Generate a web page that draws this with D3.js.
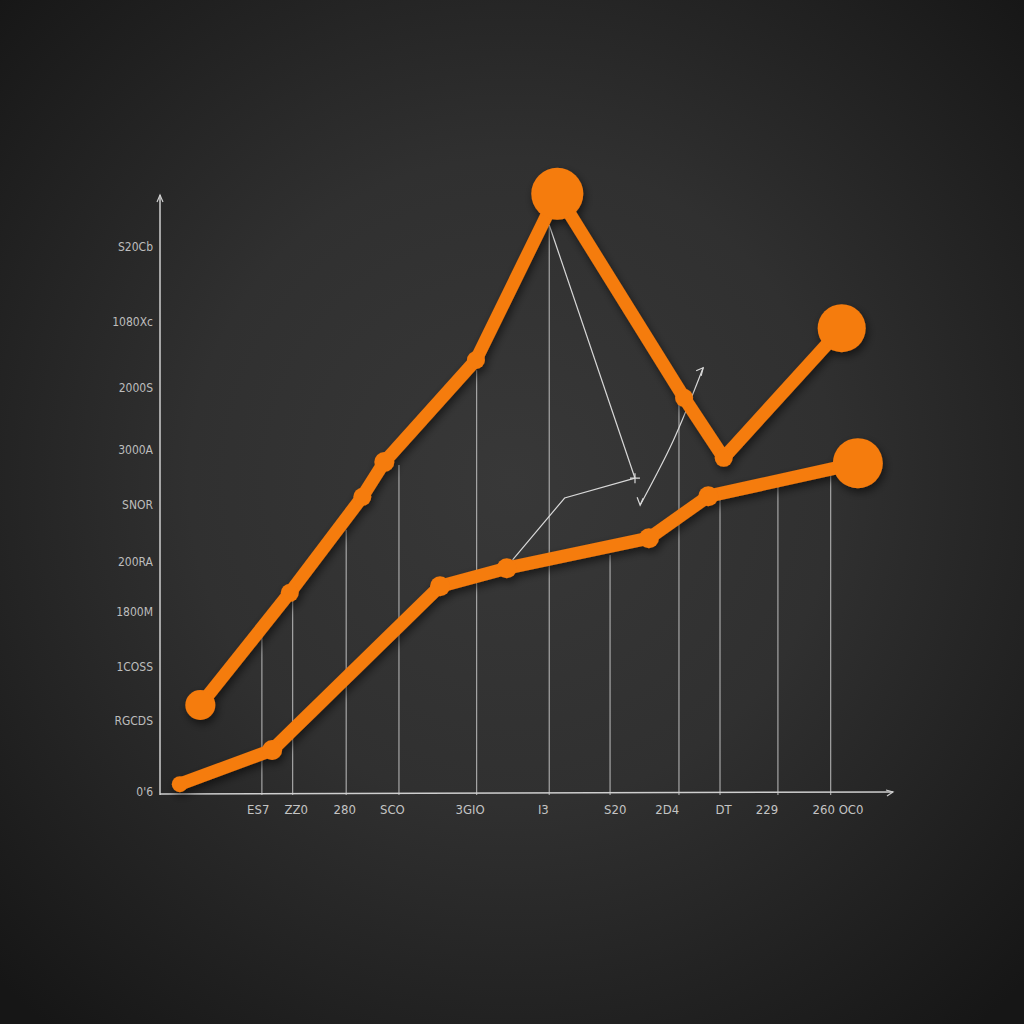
<!DOCTYPE html>
<html><head><meta charset="utf-8">
<script src="https://cdn.jsdelivr.net/npm/d3@7"></script>
<style>html,body{margin:0;padding:0;background:#1c1c1c;}svg{display:block;}</style>
</head><body>
<script>
// ---- data ----
const s1x = [5.5, 17.7, 27.6, 30.6, 43.1, 54.2, 71.5, 76.9, 93.0];
const s1y = [15.0, 33.7, 49.7, 55.5, 72.5, 100.2, 66.2, 56.2, 77.8];
const s2x = [2.7, 15.3, 38.2, 47.3, 66.7, 74.8, 95.2];
const s2y = [1.8, 7.5, 34.8, 37.8, 42.8, 49.8, 55.3];
const xTickPos = [13.4, 18.6, 25.2, 31.7, 42.3, 52.3, 62.1, 69.2, 76.9, 82.8, 92.5];
const xTickLabels = ["ES7", "ZZ0", "280", "SCO", "3GIO", "I3", "S20", "2D4", "DT", "229", "260 OC0"];
const yTickPos = [91.2, 78.8, 67.7, 57.5, 48.2, 38.8, 30.5, 21.2, 12.2, 0.5];
const yTickLabels = ["S20Cb", "1080Xc", "2000S", "3000A", "SNOR", "200RA", "1800M", "1COSS", "RGCDS", "0'6"];
const gridX = [13.9, 18.1, 25.4, 32.6, 43.2, 53.1, 61.4, 70.8, 76.4, 84.3, 91.5];
const gridTop = [26.7, 32.5, 44.2, 55.0, 70.8, 95.0, 40.0, 65.8, 49.2, 52.5, 54.2];
const noteA = [[53.1, 95.0], [64.8, 52.8]];
const noteB = [[48.1, 39.2], [55.2, 49.5], [64.8, 52.8]];
const noteC = [[65.5, 48.3], [70.0, 59.0], [74.1, 71.2]];

// ---- styles (not data) ----
const r1 = [15, 9, 9, 10, 9, 26, 9, 9, 24];
const r2 = [8, 10, 10, 10, 10, 10, 25];
const ORANGE = "#f57b0c";
const W = 1024, H = 1024;

const svg = d3.select("body").append("svg").attr("width", W).attr("height", H);
const defs = svg.append("defs");
const rg = defs.append("radialGradient").attr("id", "bg").attr("cx", "50%").attr("cy", "47%").attr("r", "70%");
rg.append("stop").attr("offset", "0%").attr("stop-color", "#383838");
rg.append("stop").attr("offset", "45%").attr("stop-color", "#303030");
rg.append("stop").attr("offset", "100%").attr("stop-color", "#161616");
svg.append("rect").attr("width", W).attr("height", H).attr("fill", "url(#bg)");
const f = defs.append("filter").attr("id", "sh").attr("x", "-20%").attr("y", "-20%").attr("width", "140%").attr("height", "140%");
f.append("feDropShadow").attr("dx", 2).attr("dy", 4).attr("stdDeviation", 4).attr("flood-color", "#000").attr("flood-opacity", 0.55);

const x = d3.scaleLinear().domain([0, 100]).range([160, 893]);
const y = d3.scaleLinear().domain([0, 100]).range([795, 195]);

// grid lines
svg.append("g").selectAll("line").data(gridX).join("line")
  .attr("x1", d => x(d)).attr("x2", d => x(d))
  .attr("y1", y(0)).attr("y2", (d, i) => y(gridTop[i]))
  .attr("stroke", "#c8c8c8").attr("stroke-width", 1.1).attr("opacity", 0.85);

// axes
const axisColor = "#cfcfcf";
svg.append("line").attr("x1", x(0)).attr("x2", x(0)).attr("y1", y(0)).attr("y2", y(100))
  .attr("stroke", axisColor).attr("stroke-width", 1.5);
svg.append("line").attr("x1", x(0)).attr("x2", x(100)).attr("y1", y(0) - 1).attr("y2", y(0) - 3)
  .attr("stroke", axisColor).attr("stroke-width", 1.5);
svg.append("path").attr("d", `M${x(0) - 3},${y(100) + 7} L${x(0)},${y(100)} L${x(0) + 3},${y(100) + 7}`)
  .attr("fill", "none").attr("stroke", axisColor).attr("stroke-width", 1.2);
svg.append("path").attr("d", `M${x(100) - 7},${y(0) - 5} L${x(100)},${y(0) - 3} L${x(100) - 6},${y(0) + 1}`)
  .attr("fill", "none").attr("stroke", axisColor).attr("stroke-width", 1.2);

// tick labels
svg.append("g").selectAll("text").data(yTickLabels).join("text")
  .attr("x", x(0) - 7).attr("y", (d, i) => y(yTickPos[i]))
  .attr("text-anchor", "end").attr("dominant-baseline", "middle")
  .attr("font-family", "DejaVu Sans Condensed, DejaVu Sans, sans-serif").attr("font-size", 12)
  .attr("fill", "#bdbdbd").text(d => d);
svg.append("g").selectAll("text").data(xTickLabels).join("text")
  .attr("x", (d, i) => x(xTickPos[i])).attr("y", y(0) + 19)
  .attr("text-anchor", "middle")
  .attr("font-family", "DejaVu Sans Condensed, DejaVu Sans, sans-serif").attr("font-size", 13)
  .attr("fill", "#c4c4c4").text(d => d);

// annotation lines
const ln = d3.line().x(d => x(d[0])).y(d => y(d[1]));
const ann = svg.append("g").attr("fill", "none").attr("stroke", "#d8d8d8").attr("stroke-width", 1.2);
ann.append("path").attr("d", ln(noteA));
ann.append("path").attr("d", ln(noteB));
ann.append("path").attr("d", d3.line().curve(d3.curveCatmullRom).x(d => x(d[0])).y(d => y(d[1]))(noteC));
const tip = noteC[2];
ann.append("path").attr("d", `M${x(tip[0]) - 7},${y(tip[1]) + 3} L${x(tip[0])},${y(tip[1])} L${x(tip[0]) - 2},${y(tip[1]) + 8}`);
const st = noteA[1];
ann.append("path").attr("d", `M${x(st[0]) - 5},${y(st[1])} L${x(st[0]) + 5},${y(st[1])} M${x(st[0])},${y(st[1]) - 5} L${x(st[0])},${y(st[1]) + 5}`);
ann.append("path").attr("d", `M${x(noteC[0][0]) - 3},${y(noteC[0][1]) - 8} L${x(noteC[0][0])},${y(noteC[0][1])} L${x(noteC[0][0]) + 3},${y(noteC[0][1]) - 7}`);

// series
function drawSeries(xs, ys, rs) {
  const pts = xs.map((v, i) => [v, ys[i]]);
  const g = svg.append("g").attr("filter", "url(#sh)");
  g.append("path").attr("d", ln(pts)).attr("fill", "none").attr("stroke", ORANGE)
    .attr("stroke-width", 13).attr("stroke-linejoin", "round").attr("stroke-linecap", "round");
  g.selectAll("circle").data(pts).join("circle")
    .attr("cx", d => x(d[0])).attr("cy", d => y(d[1])).attr("r", (d, i) => rs[i]).attr("fill", ORANGE);
}
drawSeries(s2x, s2y, r2);
drawSeries(s1x, s1y, r1);
</script>
</body></html>
